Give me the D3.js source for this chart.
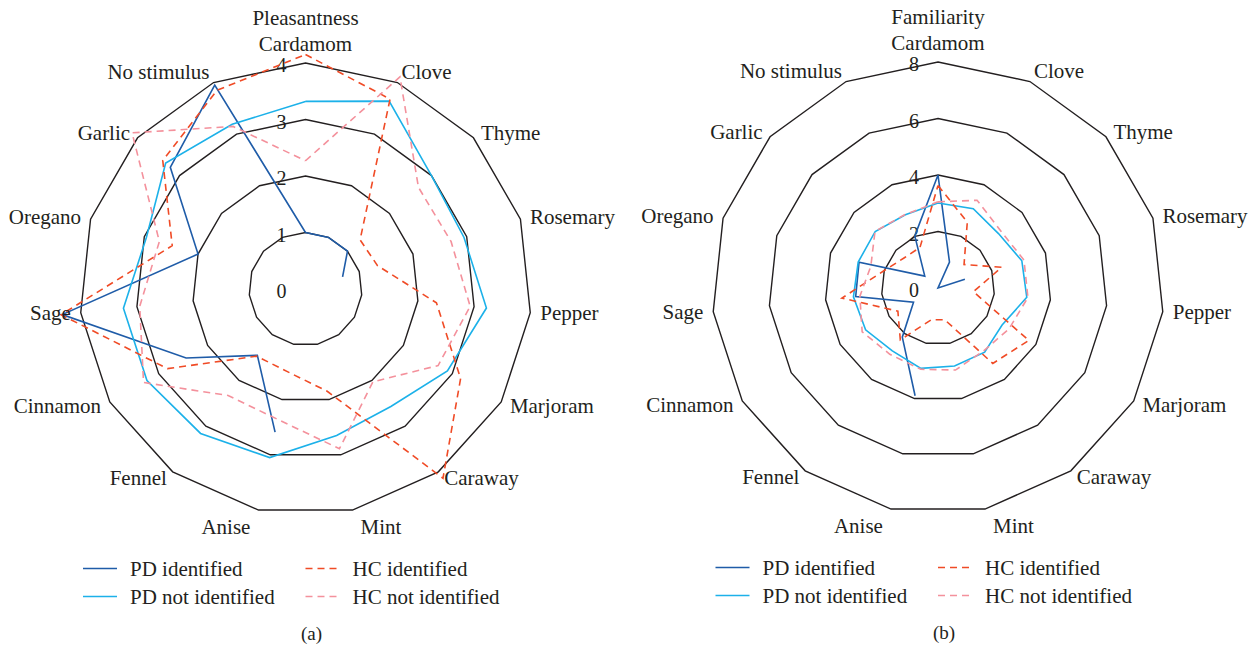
<!DOCTYPE html>
<html>
<head>
<meta charset="utf-8">
<script src="https://cdn.jsdelivr.net/npm/d3@7"></script>
<style>
  html, body { margin: 0; padding: 0; background: #fff; }
  svg { display: block; }
  text { font-family: "Liberation Serif", "Times New Roman", serif; fill: #231f20; }
</style>
</head>
<body>
<svg id="chart" width="1255" height="648"></svg>
<script>
// ---------------- DATA ----------------
const categories = ["Cardamom", "Clove", "Thyme", "Rosemary", "Pepper", "Marjoram", "Caraway", "Mint",
  "Anise", "Fennel", "Cinnamon", "Sage", "Oregano", "Garlic", "No stimulus"];

const seriesNames = ["PD identified", "PD not identified", "HC identified", "HC not identified"];

// (a) Pleasantness
const pleasPDIdentified    = [1.0, 1.0, 1.0, 0.69, null, null, null, null, 2.59, 1.45, 2.44, 4.33, 2.0, 3.22, 3.95];
const pleasPDNotIdentified = [3.32, 3.64, 3.0, 2.95, 3.22, 2.9, 2.57, 2.65, 3.05, 3.16, 3.24, 3.24, 2.96, 3.33, 3.19];
const pleasHCIdentified    = [4.15, 3.68, 1.3, 1.34, 2.33, 3.17, 4.14, 1.85, 1.5, 1.47, 2.82, 4.35, 2.48, 3.4, 3.85];
const pleasHCNotIdentified = [2.27, 4.11, 2.69, 2.71, 2.93, 2.71, 2.03, 2.89, 2.36, 2.33, 3.31, 2.95, 2.72, 4.13, 3.15];
const pleasTicks = [0, 1, 2, 3, 4];

// (b) Familiarity
const famPDIdentified    = [4.0, 1.0, 0.0, 1.0, null, null, null, null, 3.9, 2.15, 1.0, 2.93, 2.94, 0.63, 2.02];
const famPDNotIdentified = [3.01, 3.07, 2.88, 3.12, 3.16, 2.62, 2.81, 2.82, 2.91, 2.75, 2.96, 3.01, 2.97, 2.99, 2.84];
const famHCIdentified    = [3.63, 2.55, 1.24, 2.37, 1.26, 3.71, 3.3, 1.15, 1.15, 2.27, 1.64, 3.42, 2.0, 1.6, 1.57];
const famHCNotIdentified = [3.05, 3.4, 3.0, 3.2, 3.2, 2.9, 2.75, 2.97, 2.94, 2.9, 3.1, 2.78, 2.5, 3.0, 2.85];
const famTicks = [0, 2, 4, 6, 8];

// ---------------- STYLE ----------------
const seriesStyles = [
  { color: "#1f5ca8", dash: null },
  { color: "#1cb1e9", dash: null },
  { color: "#f04b26", dash: "7,5" },
  { color: "#f4919c", dash: "7,5" }
];

const svg = d3.select("#chart");
const R = 226;
const n = categories.length;
const angleOf = i => i * 2 * Math.PI / n;
const FS = 21;

function drawRadar(cx, cy, title, ticks, seriesData, caption) {
  const g = svg.append("g").attr("transform", `translate(${cx},${cy})`);
  const maxV = ticks[ticks.length - 1];
  const r = d3.scaleLinear().domain([0, maxV]).range([0, R]);

  // grid rings
  const ring = d3.lineRadial().angle((d, i) => angleOf(i)).radius(d => r(d)).curve(d3.curveLinearClosed);
  ticks.filter(t => t > 0).forEach(t => {
    g.append("path").attr("d", ring(categories.map(() => t)))
      .attr("fill", "none").attr("stroke", "#231f20").attr("stroke-width", 1.4);
  });

  // tick labels
  g.selectAll("text.tick").data(ticks).join("text")
    .attr("class", "tick")
    .attr("x", -19).attr("y", d => -r(d) + 2)
    .attr("text-anchor", "end").attr("dominant-baseline", "central")
    .attr("font-size", 20).text(d => d);

  // series
  seriesData.forEach((vals, si) => {
    const pts = vals.map((v, i) => ({ v, i }));
    pts.push({ v: vals[0], i: n });
    const line = d3.lineRadial()
      .defined(d => d.v !== null && d.v !== undefined)
      .angle(d => angleOf(d.i)).radius(d => r(d.v));
    const st = seriesStyles[si];
    g.append("path").attr("d", line(pts))
      .attr("fill", "none").attr("stroke", st.color).attr("stroke-width", 1.6)
      .attr("stroke-dasharray", st.dash).attr("stroke-linejoin", "miter");
  });

  // category labels
  categories.forEach((c, i) => {
    const a = angleOf(i), s = Math.sin(a), co = Math.cos(a);
    const rx = 236;
    const ac = Math.abs(co);
    const ry = i === 0 ? 245 : (ac > 0.95 ? 243 : (ac > 0.9 ? 238 : 233));
    let anchor = "middle";
    if (s > 0.05) anchor = "start"; else if (s < -0.05) anchor = "end";
    const extra = (Math.abs(s) > 0.05 && Math.abs(s) < 0.3) ? 6 * Math.sign(s) : 0;
    g.append("text")
      .attr("x", rx * s + extra)
      .attr("y", -ry * co)
      .attr("text-anchor", anchor).attr("dominant-baseline", "central")
      .attr("font-size", FS).text(c);
  });

  // title
  g.append("text").attr("x", 0).attr("y", -271).attr("text-anchor", "middle")
    .attr("dominant-baseline", "central").attr("font-size", FS).text(title);

  // legend
  const leg = [
    { s: 0, x: -222.5, y: 279.5 },
    { s: 1, x: -222.5, y: 307.5 },
    { s: 2, x: 0, y: 279.5 },
    { s: 3, x: 0, y: 307.5 }
  ];
  leg.forEach(l => {
    const st = seriesStyles[l.s];
    g.append("line").attr("x1", l.x).attr("x2", l.x + 34).attr("y1", l.y).attr("y2", l.y)
      .attr("stroke", st.color).attr("stroke-width", 1.6).attr("stroke-dasharray", st.dash);
    g.append("text").attr("x", l.x + 47).attr("y", l.y).attr("dominant-baseline", "central")
      .attr("font-size", FS).text(seriesNames[l.s]);
  });

  // caption
  g.append("text").attr("x", 6).attr("y", 344).attr("text-anchor", "middle")
    .attr("dominant-baseline", "central").attr("font-size", 19).text(caption);
}

drawRadar(305.5, 289, "Pleasantness", pleasTicks,
  [pleasPDIdentified, pleasPDNotIdentified, pleasHCIdentified, pleasHCNotIdentified], "(a)");
drawRadar(938, 288, "Familiarity", famTicks,
  [famPDIdentified, famPDNotIdentified, famHCIdentified, famHCNotIdentified], "(b)");
</script>
</body>
</html>
